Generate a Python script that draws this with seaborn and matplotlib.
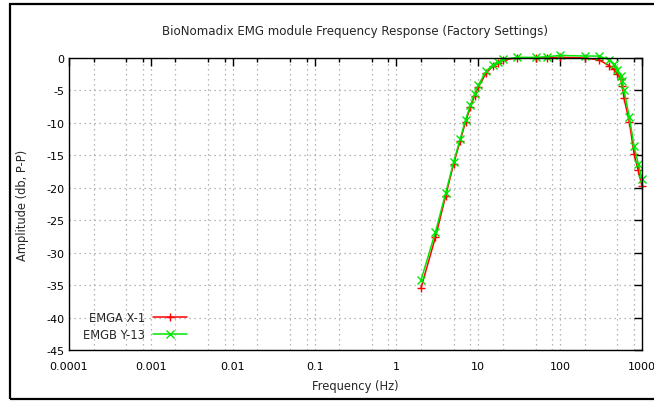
import numpy as np
import pandas as pd
import matplotlib
matplotlib.use("Agg")
import matplotlib.pyplot as plt
from matplotlib.patches import Rectangle
from matplotlib.ticker import FixedLocator, NullFormatter
import seaborn as sns

# frequencies (Hz) and amplitudes (dB, P-P)
freq = [2, 3, 4, 5, 6, 7, 8, 9, 10, 12.5, 15, 17.5, 20, 30, 50, 70, 100,
        200, 300, 400, 450, 500, 550, 575, 600, 700, 800, 900, 1000]
emga_x1 = [-35.4, -27.6, -21.2, -16.3, -12.8, -9.8, -7.6, -5.8, -4.5, -2.3, -1.3, -0.8, -0.3,
           0.0, 0.0, 0.0, 0.1, 0.0, -0.3, -1.2, -1.7, -2.5, -3.2, -4.3, -6.1, -9.8, -14.8, -17.3, -19.8]
emgb_y13 = [-34.2, -26.8, -20.8, -16.0, -12.5, -9.5, -7.3, -5.5, -4.2, -2.0, -1.1, -0.6, -0.2,
            0.1, 0.1, 0.2, 0.4, 0.3, 0.3, -0.3, -0.9, -1.8, -2.7, -3.6, -4.9, -9.1, -13.6, -16.3, -18.7]

x_major = [0.0001, 0.001, 0.01, 0.1, 1, 10, 100, 1000]
x_labels = ["0.0001", "0.001", "0.01", "0.1", "1", "10", "100", "1000"]
y_major = [0, -5, -10, -15, -20, -25, -30, -35, -40, -45]

series = [("EMGA X-1", emga_x1, "#ff0000", "+"),
          ("EMGB Y-13", emgb_y13, "#00e600", "x")]

sns.set_style("white")
plt.rcParams["font.family"] = ["DejaVu Sans"]
plt.rcParams["font.size"] = 8

fig = plt.figure(figsize=(6.54, 4.02), dpi=100)
ax = fig.add_axes([69 / 654, 1 - 351 / 402, (642 - 69) / 654, (351 - 59) / 402])

# outer frame like the gnuplot canvas
fig.patches.append(Rectangle((10 / 654, 2 / 402), 1.2, 395 / 402, transform=fig.transFigure,
                             fill=False, edgecolor="black", linewidth=1.6))

for name, vals, col, mk in series:
    d = pd.DataFrame({"Frequency": freq, "Amplitude": vals})
    sns.lineplot(data=d, x="Frequency", y="Amplitude", color=col, marker=mk,
                 markersize=6, markeredgewidth=1.0, markeredgecolor=col,
                 linewidth=1.1, linestyle="-", label=name, ax=ax, clip_on=False)

ax.set_xscale("log")
ax.set_xlim(1e-4, 1e3)
ax.set_ylim(-45, 0)

minor = [m * 10.0 ** e for e in range(-4, 3) for m in (2, 5, 8)]
ax.xaxis.set_major_locator(FixedLocator(x_major))
ax.set_xticklabels(x_labels)
ax.xaxis.set_minor_locator(FixedLocator(minor))
ax.xaxis.set_minor_formatter(NullFormatter())
ax.set_yticks(y_major)
ax.set_yticklabels([str(v) for v in y_major])

ax.tick_params(which="both", direction="in", top=True, right=True, colors="black", labelsize=8)
ax.tick_params(which="major", length=6, width=1)
ax.tick_params(which="minor", length=3, width=1)
ax.tick_params(axis="x", pad=8)

ax.grid(which="both", color="#a0a0a0", linestyle=(0, (1, 3)), linewidth=0.9)
for s in ax.spines.values():
    s.set_color("black")
    s.set_linewidth(1)

ax.set_title("BioNomadix EMG module Frequency Response (Factory Settings)", fontsize=8.6, pad=17)
ax.set_xlabel("Frequency (Hz)", fontsize=8.3, labelpad=6)
ax.set_ylabel("Amplitude (db, P-P)", fontsize=8.3, labelpad=12)

ax.legend(loc="lower left", bbox_to_anchor=(0.012, 0.006), frameon=False, markerfirst=False,
          handlelength=3.0, fontsize=8.3, labelspacing=0.4, borderaxespad=0.2, handletextpad=0.7)

fig.savefig("out.png", dpi=100)
